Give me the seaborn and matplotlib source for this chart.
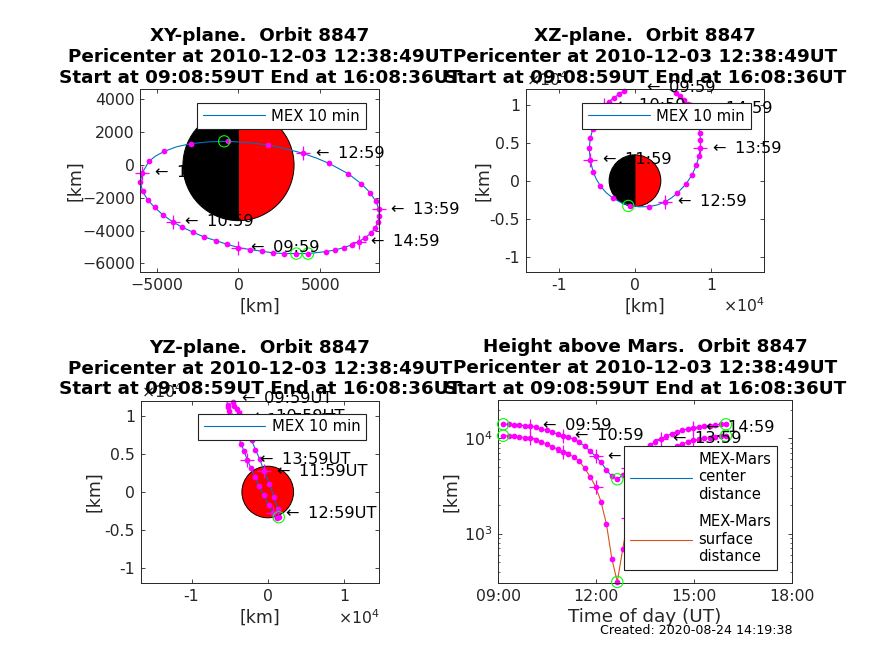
# plot.py
import matplotlib
matplotlib.use("Agg")
import matplotlib.pyplot as plt
from matplotlib.patches import Circle, Wedge
import numpy as np
import pandas as pd
import seaborn as sns

# --- orbit positions every 10 min [km] ---
orbit_x = [3532, 2801, 2111, 1421, 711, 0, -711, -1401, -2111, -2781, -3431, -4019,
           -4608, -5116, -5542, -5846, -5989, -5867, -5461, -4527, -2923, -650, 1827,
           3938, 5522, 6699, 7491, 8039, 8384, 8567, 8587, 8506, 8323, 8079, 7734,
           7349, 6902, 6435, 5907, 5339, 4243]
orbit_y = [-5398, -5398, -5357, -5255, -5154, -5031, -4828, -4604, -4380, -4094, -3789,
           -3463, -3035, -2587, -2118, -1609, -1039, -469, 224, 835, 1304, 1446, 1222,
           713, 102, -530, -1141, -1691, -2220, -2689, -3096, -3483, -3850, -4155, -4420,
           -4665, -4868, -5031, -5174, -5276, -5398]
orbit_z = [12300, 12500, 12600, 12600, 12500, 12250, 12050, 11770, 11330, 10890, 10370,
           9900, 8900, 7850, 6783, 5558, 4288, 2713, 1094, -700, -2276, -3282, -3413,
           -2800, -1663, -438, 788, 2013, 3194, 4245, 5339, 6301, 7200, 8000, 8800, 9450,
           10030, 10590, 11115, 11465, 12150]

# extra points on the fast part of the orbit, the dots are far apart there
peri_x = [-5461, -5070, -4527, -3790, -2923, -1820, -650, 590, 1827, 2920, 3938, 4780, 5522]
peri_y = [224, 545, 835, 1110, 1304, 1415, 1446, 1370, 1222, 985, 713, 415, 102]
peri_z = [1094, 200, -700, -1560, -2276, -2880, -3282, -3440, -3413, -3190, -2800, -2270, -1663]

# hourly marks
cross_x = [0, -4019, -5867, 3938, 8567, 7349]
cross_y = [-5031, -3463, -469, 713, -2689, -4665]
cross_z = [12250, 9900, 2713, -2800, 4245, 9450]
cross_labels = ["09:59", "10:59", "11:59", "12:59", "13:59", "14:59"]

# start, end and pericenter circles
green_x = [3532, 4243, -873]
green_y = [-5398, -5398, 1446]
green_z = [12300, 12150, -3320]

# --- height panel ---
time_of_day = ["09:08:59", "09:18:59", "09:28:59", "09:38:59", "09:48:59", "09:58:59",
               "10:08:59", "10:18:59", "10:28:59", "10:38:59", "10:48:59", "10:58:59",
               "11:08:59", "11:18:59", "11:28:59", "11:38:59", "11:48:59", "11:58:59",
               "12:08:59", "12:18:59", "12:28:59", "12:38:59", "12:48:59", "12:58:59",
               "13:08:59", "13:18:59", "13:28:59", "13:38:59", "13:48:59", "13:58:59",
               "14:08:59", "14:18:59", "14:28:59", "14:38:59", "14:48:59", "14:58:59",
               "15:08:59", "15:18:59", "15:28:59", "15:38:59", "15:48:59", "15:58:59"]
center_dist = [14026, 14026, 13914, 13803, 13580, 13470, 13040, 12530, 12130, 11560, 11100,
               10660, 10240, 9760, 9150, 8240, 7360, 6470, 5600, 4660, 3990, 3715, 4120,
               4840, 5768, 6734, 7618, 8510, 9080, 9840, 10580, 11190, 11750, 12130, 12620,
               12940, 13150, 13370, 13580, 13800, 14030, 14030]
surface_dist = [10636, 10636, 10524, 10413, 10190, 10080, 9650, 9140, 8740, 8170, 7710, 7270,
                6850, 6370, 5760, 4850, 3970, 3113, 2167, 1262, 546, 311, 686,
                1450, 2378, 3344, 4228, 5120, 5690, 6450, 7190, 7800, 8360, 8740, 9230,
                9550, 9760, 9980, 10190, 10410, 10640, 10640]
cross_index = [5, 11, 17, 23, 29, 35]
green_index = [0, 21, 41]

titles = ["XY-plane.  Orbit 8847", "XZ-plane.  Orbit 8847",
          "YZ-plane.  Orbit 8847", "Height above Mars.  Orbit 8847"]
title_tail = "Pericenter at 2010-12-03 12:38:49UT\nStart at 09:08:59UT End at 16:08:36UT"
time_ticks = [9, 12, 15, 18]
time_tick_labels = ["09:00", "12:00", "15:00", "18:00"]

MARS_RADIUS = 3390
BLUE = (0, 0.447, 0.741)
ORANGE = (0.85, 0.325, 0.098)
GRID = (0.15, 0.15, 0.15)

W, H = 874, 655
TICK_SIZE = 11.3
LABEL_SIZE = 12.4
TEXT_SIZE = 11.7
LEGEND_SIZE = 10.6

sns.set_theme(style="ticks", rc={
    "xtick.direction": "in", "ytick.direction": "in",
    "xtick.top": True, "ytick.right": True,
    "xtick.major.size": 3, "ytick.major.size": 3,
    "xtick.minor.size": 1.5, "ytick.minor.size": 1.5,
    "xtick.major.width": 0.6, "ytick.major.width": 0.6,
    "xtick.minor.width": 0.5, "ytick.minor.width": 0.5,
    "axes.linewidth": 0.7, "axes.edgecolor": GRID,
    "xtick.color": GRID, "ytick.color": GRID,
    "xtick.labelsize": TICK_SIZE, "ytick.labelsize": TICK_SIZE,
    "text.color": "black",
})
plt.rcParams["font.family"] = ["DejaVu Sans"]


def make_axes(fig, left, top, right, bottom):
    return fig.add_axes([left / W, 1 - bottom / H, (right - left) / W, (bottom - top) / H])


def draw_markers(ax, dots, lims, crosses, greens, labels, suffix=""):
    """Dots, hour crosses and green circles; MATLAB only drops markers with the centre outside."""
    xlim, ylim = lims

    def inside(a, b):
        a, b = np.asarray(a, float), np.asarray(b, float)
        keep = (a >= xlim[0]) & (a <= xlim[1]) & (b >= ylim[0]) & (b <= ylim[1])
        return a[keep], b[keep]

    a, b = inside(*dots)
    sns.scatterplot(x=a, y=b, ax=ax, color=(1, 0, 1), s=17, linewidth=0, clip_on=False, zorder=2.4, legend=False)
    a, b = inside(*crosses)
    sns.scatterplot(x=a, y=b, ax=ax, color=(1, 0, 1), marker="+", s=115, linewidth=0.9, clip_on=False,
                    zorder=2.5, legend=False)
    a, b = inside(*greens)
    if len(a):
        sns.scatterplot(x=a, y=b, ax=ax, color=(0, 1, 0), s=66, linewidth=0.8, clip_on=False, zorder=2.6, legend=False)
        ax.collections[-1].set_facecolor("none")
        ax.collections[-1].set_edgecolor((0, 1, 0))
    for lab, cx, cy in zip(labels, crosses[0], crosses[1]):
        ax.annotate("\u2190\u2009 " + lab + suffix, xy=(cx, cy), xytext=(9, 0), textcoords="offset points",
                    va="center", ha="left", fontsize=TEXT_SIZE, annotation_clip=False, zorder=3, color="black")


def finish(ax, lims, xticks, yticks):
    ax.set_xlim(lims[0])
    ax.set_ylim(lims[1])
    ax.set_xticks(xticks)
    ax.set_yticks(yticks)


def place_legend(ax, left, top, **kwargs):
    leg = ax.legend(loc="upper left", bbox_to_anchor=(left / W, 1 - top / H), bbox_transform=ax.figure.transFigure,
                    borderaxespad=0, fancybox=False, framealpha=1, edgecolor="#222222", fontsize=LEGEND_SIZE,
                    handlelength=4.2, handletextpad=0.42, **kwargs)
    leg.get_frame().set_linewidth(0.8)
    return leg


def add_multiplier(ax):
    ax.text(0.0, 1.0, r"$\times 10^{4}$", transform=ax.transAxes, fontsize=TICK_SIZE, color=GRID, ha="left", va="bottom")
    ax.text(1.0, -0.135, r"$\times 10^{4}$", transform=ax.transAxes, fontsize=TICK_SIZE, color=GRID, ha="right", va="top")


line_x = orbit_x[:18] + peri_x + orbit_x[25:] + orbit_x[:1]
line_y = orbit_y[:18] + peri_y + orbit_y[25:] + orbit_y[:1]
line_z = orbit_z[:18] + peri_z + orbit_z[25:] + orbit_z[:1]

fig = plt.figure(figsize=(W / 100, H / 100), dpi=100)

# XY plane
ax1 = make_axes(fig, 140.3, 89.3, 379.3, 272.3)
lims1 = ((-5990, 8590), (-6540, 4620))
ax1.add_patch(Wedge((0, 0), MARS_RADIUS, 90, 270, fc="black", ec="black", lw=0.7, zorder=1))
ax1.add_patch(Wedge((0, 0), MARS_RADIUS, 270, 90, fc="red", ec="black", lw=0.7, zorder=1))
sns.lineplot(x=line_x, y=line_y, ax=ax1, color=BLUE, linewidth=0.8, sort=False, estimator=None, label="MEX 10 min", zorder=2)
draw_markers(ax1, (orbit_x, orbit_y), lims1, (cross_x, cross_y), (green_x, green_y), cross_labels)
finish(ax1, lims1, [-5000, 0, 5000], [-6000, -4000, -2000, 0, 2000, 4000])
place_legend(ax1, 197.3, 102.7)

# XZ plane
ax2 = make_axes(fig, 525.7, 89.3, 764.3, 272)
lims2 = ((-14320, 16950), (-12000, 12000))
ax2.add_patch(Wedge((0, 0), MARS_RADIUS, 90, 270, fc="black", ec="black", lw=0.7, zorder=1))
ax2.add_patch(Wedge((0, 0), MARS_RADIUS, 270, 90, fc="red", ec="black", lw=0.7, zorder=1))
sns.lineplot(x=line_x, y=line_z, ax=ax2, color=BLUE, linewidth=0.8, sort=False, estimator=None, label="MEX 10 min", zorder=2)
draw_markers(ax2, (orbit_x, orbit_z), lims2, (cross_x, cross_z), (green_x, green_z), cross_labels)
finish(ax2, lims2, [-10000, 0, 10000], [-10000, -5000, 0, 5000, 10000])
ax2.set_xticklabels(["-1", "0", "1"])
ax2.set_yticklabels(["-1", "-0.5", "0", "0.5", "1"])
add_multiplier(ax2)
place_legend(ax2, 582.3, 102.7)

# YZ plane
ax3 = make_axes(fig, 140.7, 400.7, 379.3, 583.3)
lims3 = ((-16670, 14640), (-12000, 12000))
ax3.add_patch(Circle((0, 0), MARS_RADIUS, fc="red", ec="black", lw=0.7, zorder=1))
sns.lineplot(x=line_y, y=line_z, ax=ax3, color=BLUE, linewidth=0.8, sort=False, estimator=None, label="MEX 10 min", zorder=2)
draw_markers(ax3, (orbit_y, orbit_z), lims3, (cross_y, cross_z), (green_y, green_z), cross_labels, suffix="UT")
finish(ax3, lims3, [-10000, 0, 10000], [-10000, -5000, 0, 5000, 10000])
ax3.set_xticklabels(["-1", "0", "1"])
ax3.set_yticklabels(["-1", "-0.5", "0", "0.5", "1"])
add_multiplier(ax3)
place_legend(ax3, 197.7, 413.5)

# height above Mars
hours = pd.to_timedelta(pd.Series(time_of_day)) / pd.Timedelta(hours=1)
ax4 = make_axes(fig, 498.3, 400.3, 791.7, 583.3)
sns.lineplot(x=hours, y=center_dist, ax=ax4, color=BLUE, linewidth=0.8, sort=False, estimator=None,
             label="MEX-Mars\ncenter\ndistance", zorder=2)
sns.lineplot(x=hours, y=surface_dist, ax=ax4, color=ORANGE, linewidth=0.8, sort=False, estimator=None,
             label="MEX-Mars\nsurface\ndistance", zorder=2)
ax4.set_yscale("log")
lims4 = ((9, 18), (301, 25060))
t = hours.to_numpy()
all_t = np.concatenate([t, t])
all_h = np.array(center_dist + surface_dist, float)
marks_t = np.concatenate([t[cross_index], t[cross_index]])
marks_h = [center_dist[i] for i in cross_index] + [surface_dist[i] for i in cross_index]
green_t = np.concatenate([t[green_index], t[green_index]])
green_h = [center_dist[i] for i in green_index] + [surface_dist[i] for i in green_index]
draw_markers(ax4, (all_t, all_h), lims4, (marks_t, marks_h), (green_t, green_h), cross_labels)
ax4.set_xlim(lims4[0])
ax4.set_ylim(lims4[1])
ax4.set_xticks(time_ticks)
ax4.set_xticklabels(time_tick_labels)
ax4.set_yticks([1000, 10000])
place_legend(ax4, 624.3, 446, labelspacing=0.85)

for ax, title in zip([ax1, ax2, ax3, ax4], titles):
    ax.set_title(title + "\n" + title_tail, fontsize=13.2, fontweight="bold", pad=4.5, linespacing=1.2, color="black")
    ax.tick_params(axis="x", which="both", pad=4)
    ax.tick_params(axis="y", which="both", pad=4)
    for side in ax.spines.values():
        side.set_visible(True)

for ax, label_x in zip([ax1, ax2, ax3, ax4], [-0.235, -0.14, -0.155, -0.13]):
    ax.set_ylabel("[km]", fontsize=LABEL_SIZE, color=GRID)
    ax.yaxis.set_label_coords(label_x, 0.5)
for ax in [ax1, ax2, ax3]:
    ax.set_xlabel("[km]", fontsize=LABEL_SIZE, color=GRID)
    ax.xaxis.set_label_coords(0.5, -0.14)
ax4.set_xlabel("Time of day (UT)", fontsize=13.2, color=GRID)
ax4.xaxis.set_label_coords(0.5, -0.135)

fig.text(792 / W, 1 - 630 / H, "Created: 2020-08-24 14:19:38", fontsize=9.1, ha="right", va="center", color="black")

fig.savefig("out.png", dpi=100)
